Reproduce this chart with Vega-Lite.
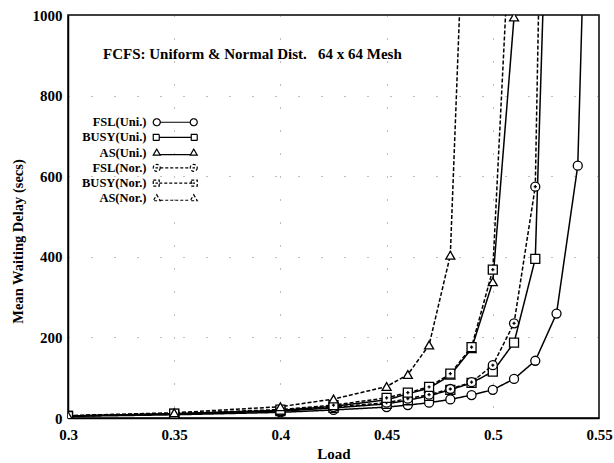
{
  "$schema": "https://vega.github.io/schema/vega-lite/v6.json",
  "width": 531,
  "height": 403,
  "autosize": {"type": "none"},
  "padding": {"left": 68, "top": 15, "right": 15, "bottom": 45},
  "background": "white",
  "config": {
    "view": {"stroke": "black", "strokeWidth": 1.5},
    "axis": {
      "labelFont": "Liberation Serif", "labelFontWeight": "bold", "labelFontSize": 15, "labelColor": "black",
      "titleFont": "Liberation Serif", "titleFontWeight": "bold", "titleFontSize": 15, "titleColor": "black",
      "domainColor": "black", "domainWidth": 1.5, "ticks": false,
      "grid": true, "gridColor": "#444", "gridDash": [1, 22], "gridWidth": 1, "gridOpacity": 0.7
    },
    "legend": {
      "orient": "none", "legendX": 71, "legendY": 101, "title": null,
      "labelFont": "Liberation Serif", "labelFontWeight": "bold", "labelFontSize": 12.5, "labelColor": "black",
      "labelAlign": "right", "labelOffset": -35, "symbolOffset": 30, "rowPadding": 2.2,
      "symbolStrokeColor": "black", "symbolStrokeWidth": 1.2
    }
  },
  "resolve": {"scale": {"shape": "independent", "strokeDash": "independent"}},
  "layer": [
    {
      "data": {"name": "series"},
      "mark": {"type": "line", "clip": true, "color": "black", "strokeWidth": 1.5},
      "encoding": {
        "x": {"field": "load", "type": "quantitative", "scale": {"domain": [0.3, 0.55], "nice": false, "zero": false},
              "axis": {"values": [0.3, 0.35, 0.4, 0.45, 0.5, 0.55], "labelExpr": "'' + datum.value", "title": "Load", "labelPadding": 9, "titlePadding": 4, "labelFlush": false}},
        "y": {"field": "delay", "type": "quantitative", "scale": {"domain": [0, 1000], "nice": false},
              "axis": {"values": [0, 200, 400, 600, 800, 1000], "labelExpr": "'' + datum.value", "title": "Mean Waiting Delay (secs)", "titleFontSize": 14.5, "titleY": 226, "labelPadding": 6, "titlePadding": 7, "labelFlush": false}},
        "detail": {"field": "series"},
        "strokeDash": {
          "field": "series", "type": "nominal", "legend": null,
          "scale": {"domain": ["FSL(Uni.)", "BUSY(Uni.)", "AS(Uni.)", "FSL(Nor.)", "BUSY(Nor.)", "AS(Nor.)"],
                    "range": [[1, 0], [1, 0], [1, 0], [4, 2], [4, 2], [4, 2]]}
        }
      }
    },
    {
      "data": {"name": "series"},
      "mark": {"type": "point", "clip": true, "filled": true, "fill": "white", "stroke": "black", "strokeWidth": 1.3, "size": 81, "opacity": 1},
      "encoding": {
        "x": {"field": "load", "type": "quantitative"},
        "y": {"field": "delay", "type": "quantitative"},
        "shape": {
          "field": "series", "type": "nominal", "legend": null,
          "scale": {"domain": ["FSL(Uni.)", "BUSY(Uni.)", "AS(Uni.)", "FSL(Nor.)", "BUSY(Nor.)", "AS(Nor.)"],
                    "range": ["circle", "square", "triangle-up", "M1,0 A1,1 0 1,1 -1,0 A1,1 0 1,1 1,0 Z M-0.35,0 L0.35,0 M0,-0.35 L0,0.35", "M-1,-1 L1,-1 L1,1 L-1,1 Z M-0.35,0 L0.35,0 M0,-0.35 L0,0.35", "triangle-up"]}
        }
      }
    },
    {
      "data": {"name": "series"},
      "transform": [{"filter": "datum.delay > 1000000"}],
      "mark": {"type": "point", "filled": false, "color": "black", "stroke": "black", "strokeWidth": 1.2, "size": 100, "opacity": 1},
      "encoding": {
        "x": {"field": "load", "type": "quantitative"},
        "y": {"field": "delay", "type": "quantitative"},
        "shape": {
          "field": "series", "type": "nominal",
          "scale": {"domain": ["FSL(Uni.)", "BUSY(Uni.)", "AS(Uni.)", "FSL(Nor.)", "BUSY(Nor.)", "AS(Nor.)"],
                    "range": [
                      "M-3.0,0 A0.7,0.7 0 1,1 -4.4,0 A0.7,0.7 0 1,1 -3.0,0 Z M-3.0,0 L3.0,0 M4.4,0 A0.7,0.7 0 1,1 3.0,0 A0.7,0.7 0 1,1 4.4,0 Z",
                      "M-4.4,-0.6 L-3.2,-0.6 L-3.2,0.6 L-4.4,0.6 Z M-3.2,0 L3.2,0 M3.2,-0.6 L4.4,-0.6 L4.4,0.6 L3.2,0.6 Z",
                      "M-3.7,-0.7 L-3.0,0.5 L-4.4,0.5 Z M-3.0,0.4 L3.0,0.4 M3.7,-0.7 L4.4,0.5 L3.0,0.5 Z",
                      "M-3.0,0 A0.7,0.7 0 1,1 -4.4,0 A0.7,0.7 0 1,1 -3.0,0 Z M-3.0,0 L3.0,0 M4.4,0 A0.7,0.7 0 1,1 3.0,0 A0.7,0.7 0 1,1 4.4,0 Z M-3.95,0 L-3.45,0 M3.45,0 L3.95,0",
                      "M-4.4,-0.6 L-3.2,-0.6 L-3.2,0.6 L-4.4,0.6 Z M-3.2,0 L3.2,0 M3.2,-0.6 L4.4,-0.6 L4.4,0.6 L3.2,0.6 Z M-3.95,0 L-3.45,0 M3.45,0 L3.95,0",
                      "M-3.7,-0.7 L-3.0,0.5 L-4.4,0.5 Z M-3.0,0.4 L3.0,0.4 M3.7,-0.7 L4.4,0.5 L3.0,0.5 Z"
                    ]}
        },
        "strokeDash": {
          "field": "series", "type": "nominal",
          "scale": {"domain": ["FSL(Uni.)", "BUSY(Uni.)", "AS(Uni.)", "FSL(Nor.)", "BUSY(Nor.)", "AS(Nor.)"],
                    "range": [[1, 0], [1, 0], [1, 0], [3, 2], [3, 2], [3, 2]]}
        }
      }
    },
    {
      "data": {"values": [{"load": 0.3165, "delay": 903, "note": "FCFS: Uniform & Normal Dist.\u00a0\u00a0\u00a064 x 64 Mesh"}]},
      "mark": {"type": "text", "align": "left", "baseline": "middle", "font": "Liberation Serif", "fontWeight": "bold", "fontSize": 15, "color": "black"},
      "encoding": {
        "x": {"field": "load", "type": "quantitative"},
        "y": {"field": "delay", "type": "quantitative"},
        "text": {"field": "note"}
      }
    }
  ],
  "datasets": {
    "series": [
      {"series": "FSL(Uni.)", "load": 0.3, "delay": 4},
      {"series": "FSL(Uni.)", "load": 0.35, "delay": 8},
      {"series": "FSL(Uni.)", "load": 0.4, "delay": 14},
      {"series": "FSL(Uni.)", "load": 0.425, "delay": 20},
      {"series": "FSL(Uni.)", "load": 0.45, "delay": 27},
      {"series": "FSL(Uni.)", "load": 0.46, "delay": 32},
      {"series": "FSL(Uni.)", "load": 0.47, "delay": 38},
      {"series": "FSL(Uni.)", "load": 0.48, "delay": 46},
      {"series": "FSL(Uni.)", "load": 0.49, "delay": 57},
      {"series": "FSL(Uni.)", "load": 0.5, "delay": 70},
      {"series": "FSL(Uni.)", "load": 0.51, "delay": 97},
      {"series": "FSL(Uni.)", "load": 0.52, "delay": 142},
      {"series": "FSL(Uni.)", "load": 0.53, "delay": 259},
      {"series": "FSL(Uni.)", "load": 0.54, "delay": 626},
      {"series": "FSL(Uni.)", "load": 0.55, "delay": 2500},
      {"series": "BUSY(Uni.)", "load": 0.3, "delay": 5},
      {"series": "BUSY(Uni.)", "load": 0.35, "delay": 10},
      {"series": "BUSY(Uni.)", "load": 0.4, "delay": 17},
      {"series": "BUSY(Uni.)", "load": 0.425, "delay": 25},
      {"series": "BUSY(Uni.)", "load": 0.45, "delay": 35},
      {"series": "BUSY(Uni.)", "load": 0.46, "delay": 44},
      {"series": "BUSY(Uni.)", "load": 0.47, "delay": 55},
      {"series": "BUSY(Uni.)", "load": 0.48, "delay": 70},
      {"series": "BUSY(Uni.)", "load": 0.49, "delay": 87},
      {"series": "BUSY(Uni.)", "load": 0.5, "delay": 115},
      {"series": "BUSY(Uni.)", "load": 0.51, "delay": 187},
      {"series": "BUSY(Uni.)", "load": 0.52, "delay": 395},
      {"series": "BUSY(Uni.)", "load": 0.53, "delay": 2100},
      {"series": "AS(Uni.)", "load": 0.3, "delay": 5},
      {"series": "AS(Uni.)", "load": 0.35, "delay": 11},
      {"series": "AS(Uni.)", "load": 0.4, "delay": 19},
      {"series": "AS(Uni.)", "load": 0.425, "delay": 29},
      {"series": "AS(Uni.)", "load": 0.45, "delay": 45},
      {"series": "AS(Uni.)", "load": 0.46, "delay": 60},
      {"series": "AS(Uni.)", "load": 0.47, "delay": 74},
      {"series": "AS(Uni.)", "load": 0.48, "delay": 106},
      {"series": "AS(Uni.)", "load": 0.49, "delay": 172},
      {"series": "AS(Uni.)", "load": 0.5, "delay": 338},
      {"series": "AS(Uni.)", "load": 0.51, "delay": 995},
      {"series": "FSL(Nor.)", "load": 0.3, "delay": 5},
      {"series": "FSL(Nor.)", "load": 0.35, "delay": 10},
      {"series": "FSL(Nor.)", "load": 0.4, "delay": 18},
      {"series": "FSL(Nor.)", "load": 0.425, "delay": 27},
      {"series": "FSL(Nor.)", "load": 0.45, "delay": 38},
      {"series": "FSL(Nor.)", "load": 0.46, "delay": 48},
      {"series": "FSL(Nor.)", "load": 0.47, "delay": 58},
      {"series": "FSL(Nor.)", "load": 0.48, "delay": 72},
      {"series": "FSL(Nor.)", "load": 0.49, "delay": 89},
      {"series": "FSL(Nor.)", "load": 0.5, "delay": 131},
      {"series": "FSL(Nor.)", "load": 0.51, "delay": 235},
      {"series": "FSL(Nor.)", "load": 0.52, "delay": 574},
      {"series": "FSL(Nor.)", "load": 0.53, "delay": 3400},
      {"series": "BUSY(Nor.)", "load": 0.3, "delay": 5},
      {"series": "BUSY(Nor.)", "load": 0.35, "delay": 11},
      {"series": "BUSY(Nor.)", "load": 0.4, "delay": 21},
      {"series": "BUSY(Nor.)", "load": 0.425, "delay": 32},
      {"series": "BUSY(Nor.)", "load": 0.45, "delay": 50},
      {"series": "BUSY(Nor.)", "load": 0.46, "delay": 63},
      {"series": "BUSY(Nor.)", "load": 0.47, "delay": 77},
      {"series": "BUSY(Nor.)", "load": 0.48, "delay": 110},
      {"series": "BUSY(Nor.)", "load": 0.49, "delay": 176},
      {"series": "BUSY(Nor.)", "load": 0.5, "delay": 368},
      {"series": "BUSY(Nor.)", "load": 0.51, "delay": 1420},
      {"series": "AS(Nor.)", "load": 0.3, "delay": 6},
      {"series": "AS(Nor.)", "load": 0.35, "delay": 13},
      {"series": "AS(Nor.)", "load": 0.4, "delay": 28},
      {"series": "AS(Nor.)", "load": 0.425, "delay": 47},
      {"series": "AS(Nor.)", "load": 0.45, "delay": 78},
      {"series": "AS(Nor.)", "load": 0.46, "delay": 108},
      {"series": "AS(Nor.)", "load": 0.47, "delay": 181},
      {"series": "AS(Nor.)", "load": 0.48, "delay": 404},
      {"series": "AS(Nor.)", "load": 0.49, "delay": 1790}
    ]
  }
}
